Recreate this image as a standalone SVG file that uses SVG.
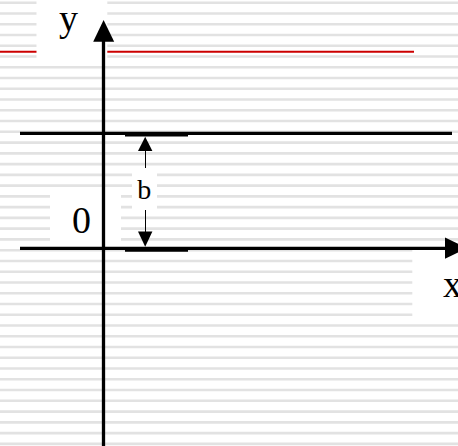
<svg xmlns="http://www.w3.org/2000/svg" width="458" height="446" viewBox="0 0 458 446">
<style>
.stripe{stroke:#e2e2e2;stroke-width:2.6;fill:none}
.box{fill:#ffffff}
.ax{stroke:#000;stroke-width:3.3;fill:none}
.thick{stroke:#000;stroke-width:4.2;fill:none}
.thin{stroke:#000;stroke-width:1;fill:none}
.head{fill:#000}
.lbl{font-family:"Liberation Serif","Times New Roman",serif;fill:#000}
</style>
<rect width="458" height="446" fill="#ffffff"/>
<g id="background">
<path class="stripe" d="M0 2.7H458M0 13.46H458M0 24.22H458M0 34.98H458M0 45.74H458M0 56.5H458M0 67.26H458M0 78.02H458M0 88.78H458M0 99.54H458M0 110.3H458M0 121.06H458M0 131.82H458M0 142.58H458M0 153.34H458M0 164.1H458M0 174.86H458M0 185.62H458M0 196.38H458M0 207.14H458M0 217.9H458M0 228.66H458M0 239.42H458M0 250.18H458M0 260.94H458M0 271.7H458M0 282.46H458M0 293.22H458M0 303.98H458M0 314.74H458M0 325.5H458M0 336.26H458M0 347.02H458M0 357.78H458M0 368.54H458M0 379.3H458M0 390.06H458M0 400.82H458M0 411.58H458M0 422.34H458M0 433.1H458M0 443.86H458"/>
</g>
<g id="red-line">
<line x1="0" y1="51.7" x2="414" y2="51.7" stroke="#cc0000" stroke-width="2"/>
</g>
<g id="label-boxes">
<rect class="box" x="36.5" y="0" width="70.8" height="59.3"/>
<rect class="box" x="50" y="189" width="71" height="57"/>
<rect class="box" x="412.3" y="250" width="46" height="70"/>
</g>
<g id="connectors">
<line id="y-axis" class="ax" x1="103.5" y1="446" x2="103.5" y2="40"/>
<polygon class="head" points="103.6,20 93.2,41.8 114.2,41.8"/>
<line id="x-axis" class="ax" x1="20" y1="248.3" x2="446" y2="248.3"/>
<polygon class="head" points="467,248.2 445,237.6 445,258.8"/>
<line id="line-b" class="ax" x1="20" y1="133.3" x2="452" y2="133.3"/>
<line class="thick" x1="125" y1="134.5" x2="188" y2="134.5"/>
<line class="thick" x1="125" y1="249.6" x2="188" y2="249.6"/>
<line class="thin" x1="145.5" y1="150" x2="145.5" y2="168"/>
<line class="thin" x1="145.5" y1="210" x2="145.5" y2="232"/>
<polygon class="head" points="145.2,136.7 138,151 152.4,151"/>
<polygon class="head" points="145.2,246.7 138,231.5 152.4,231.5"/>
</g>
<g id="label-y">
<text class="lbl" x="59" y="30.5" font-size="38">y</text>
</g>
<g id="label-0">
<text class="lbl" x="72" y="232.7" font-size="38">0</text>
</g>
<g id="label-b">
<rect class="box" x="132" y="168" width="25" height="42"/>
<text class="lbl" x="137.3" y="199" font-size="28">b</text>
</g>
<g id="label-x">
<text class="lbl" x="443" y="296.7" font-size="38">x</text>
</g>
</svg>
